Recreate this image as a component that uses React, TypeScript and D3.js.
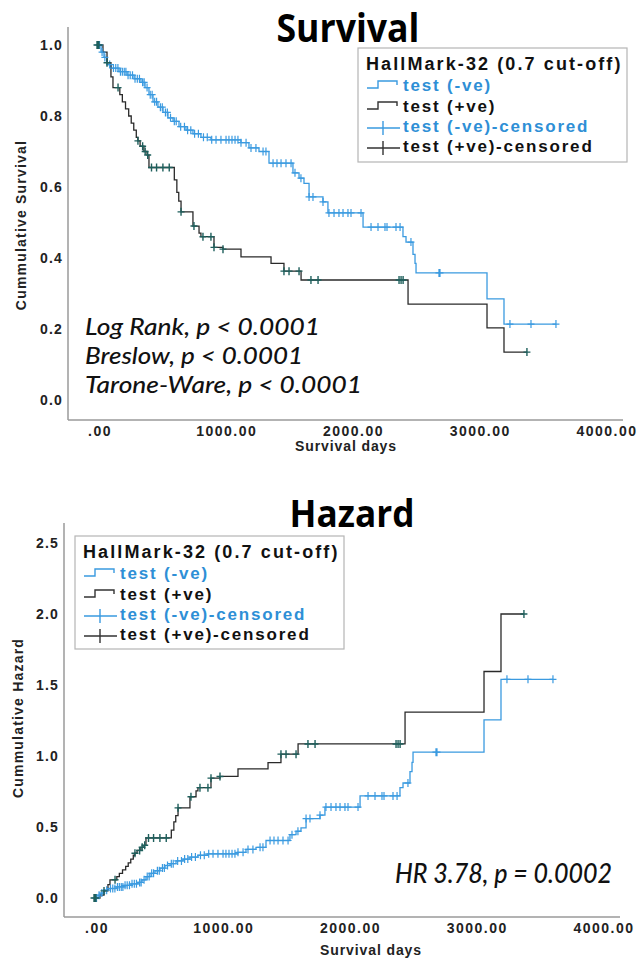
import * as d3 from "d3";

// step times (days) shared by survival and hazard curves
const negTimes = [0, 32, 55, 79, 110, 174, 237, 292, 347, 379, 410, 442, 481, 521, 560, 600, 647, 702, 757, 820, 899, 1136, 1199, 1278, 1357, 1546, 1594, 1633, 1673, 1783, 1822, 2099, 2414, 2438, 2493, 2509, 2517, 3077, 3211];
const negSurv = [1.0, 0.98, 0.965, 0.945, 0.935, 0.925, 0.915, 0.905, 0.895, 0.88, 0.86, 0.84, 0.825, 0.81, 0.795, 0.785, 0.77, 0.76, 0.75, 0.74, 0.733, 0.725, 0.71, 0.7, 0.667, 0.64, 0.625, 0.61, 0.572, 0.558, 0.527, 0.487, 0.46, 0.445, 0.41, 0.385, 0.358, 0.285, 0.214];
const negHaz = [0, 0.02, 0.035, 0.055, 0.067, 0.078, 0.089, 0.1, 0.11, 0.128, 0.151, 0.174, 0.192, 0.211, 0.229, 0.242, 0.261, 0.274, 0.288, 0.301, 0.311, 0.322, 0.342, 0.357, 0.405, 0.446, 0.47, 0.494, 0.559, 0.583, 0.64, 0.719, 0.777, 0.81, 0.89, 0.955, 1.027, 1.255, 1.54];
const negEnd = 3621;
const negCensored = [8, 20, 40, 62, 100, 130, 148, 165, 185, 200, 215, 228, 245, 262, 280, 300, 318, 335, 360, 372, 395, 420, 435, 455, 470, 500, 515, 540, 555, 580, 610, 625, 660, 690, 715, 740, 770, 800, 840, 870, 905, 939, 978, 1018, 1041, 1065, 1089, 1112, 1136, 1176, 1215, 1254, 1310, 1333, 1389, 1420, 1452, 1491, 1531, 1562, 1609, 1673, 1704, 1783, 1830, 1870, 1909, 1941, 1980, 2004, 2083, 2162, 2217, 2272, 2288, 2359, 2391, 2477, 2698, 2706, 3258, 3424, 3621];

const posTimes = [0, 47, 79, 110, 126, 180, 200, 225, 250, 270, 290, 310, 323, 340, 370, 395, 410, 610, 630, 645, 663, 757, 805, 820, 923, 994, 1136, 1373, 1475, 1610, 2454, 3077, 3211];
const posSurv = [1.0, 0.98, 0.95, 0.91, 0.88, 0.86, 0.84, 0.82, 0.8, 0.78, 0.76, 0.74, 0.73, 0.715, 0.7, 0.69, 0.655, 0.62, 0.585, 0.56, 0.53, 0.49, 0.47, 0.46, 0.43, 0.425, 0.403, 0.385, 0.363, 0.338, 0.27, 0.203, 0.135];
const posHaz = [0, 0.02, 0.05, 0.094, 0.128, 0.151, 0.174, 0.198, 0.223, 0.248, 0.274, 0.301, 0.315, 0.335, 0.357, 0.371, 0.423, 0.478, 0.536, 0.58, 0.635, 0.713, 0.755, 0.777, 0.844, 0.856, 0.909, 0.954, 1.013, 1.085, 1.309, 1.595, 2.0];
const posEnd = 3392;
const posCensored = [0, 5, 15, 79, 166, 323, 360, 380, 400, 430, 470, 520, 570, 663, 765, 836, 899, 923, 994, 1475, 1515, 1594, 1688, 1744, 2383, 2399, 2415, 3392];

const dayTicks = [0, 1000, 2000, 3000, 4000];
const dayLabels = [".00", "1000.00", "2000.00", "3000.00", "4000.00"];
const survTicks = [0, 0.2, 0.4, 0.6, 0.8, 1.0];
const hazTicks = [0, 0.5, 1.0, 1.5, 2.0, 2.5];

const legendTitle = "HallMark-32 (0.7 cut-off)";
const legendItems = ["test (-ve)", "test (+ve)", "test (-ve)-censored", "test (+ve)-censored"];
const survNotes = ["Log Rank, p < 0.0001", "Breslow, p < 0.0001", "Tarone-Ware, p < 0.0001"];
const hazNote = "HR 3.78, p = 0.0002";

const BLUE = "#3a9ae0";
const BLUE_TEXT = "#2e8fd6";
const BLACK = "#2a2a2a";
const TEAL = "#1e5f5c";
const AXIS = "#9a9a9a";
const SANS = "'Liberation Sans', Arial, sans-serif";
const TITLE_FONT = "'Open Sans', sans-serif";
const NOTE_FONT = "Lato, 'Open Sans', sans-serif";

const stepAt = (times: number[], vals: number[], t: number) =>
  vals[Math.max(0, d3.bisectRight(times, t) - 1)];

function Legend({ x, y, w, h, textDx }: any) {
  const rows = [y + 43, y + 64, y + 84, y + 104];
  const sx = x + 9;
  return (
    <g>
      <rect x={x} y={y} width={w} height={h} fill="#fff" stroke="#b5b5b5" strokeWidth={1.2} />
      <text x={x + 8} y={y + 22} fontFamily={SANS} fontSize={18} fontWeight={700} letterSpacing={2.1} fill="#111">
        {legendTitle}
      </text>
      {legendItems.map((label, i) => {
        const b = rows[i];
        const col = i % 2 === 0 ? BLUE : "#333";
        return (
          <g key={label}>
            {i < 2 ? (
              <path d={`M${sx},${b - 3}H${sx + 11}V${b - 10}H${sx + 30}V${b - 6}`} fill="none" stroke={col} strokeWidth={1.4} />
            ) : (
              <path d={`M${sx},${b - 4}H${sx + 33}M${sx + 16},${b - 11}V${b + 3}`} fill="none" stroke={col} strokeWidth={1.4} />
            )}
            <text x={x + textDx} y={b} fontFamily={SANS} fontSize={17} fontWeight={700} letterSpacing={1.8}
              fill={i % 2 === 0 ? BLUE_TEXT : "#111"}>
              {label}
            </text>
          </g>
        );
      })}
    </g>
  );
}

function Panel({ cfg, negVals, posVals, ticks, yMax, yFmt }: any) {
  const x = d3.scaleLinear().domain([0, 4000]).range([cfg.x0, cfg.x4000]);
  const y = d3.scaleLinear().domain([0, yMax]).range([cfg.yZero, cfg.yMaxPx]);
  const line = d3.line<[number, number]>()
    .x((d) => x(d[0]))
    .y((d) => y(d[1]))
    .curve(d3.curveStepAfter);

  const pts = (times: number[], vals: number[], end: number): [number, number][] =>
    [...times.map((t, i) => [t, vals[i]] as [number, number]), [end, vals[vals.length - 1]]];

  const censorPath = (cens: number[], times: number[], vals: number[]) =>
    cens.map((t) => {
      const cx = x(t);
      const cy = y(stepAt(times, vals, t));
      return `M${cx - 3.5},${cy}H${cx + 3.5}M${cx},${cy - 4}V${cy + 4}`;
    }).join("");

  return (
    <g>
      {/* axes */}
      <line x1={cfg.axisX} x2={cfg.axisX} y1={cfg.axisTop} y2={cfg.axisY} stroke={AXIS} strokeWidth={1.5} />
      <line x1={cfg.axisX} x2={cfg.axisRight} y1={cfg.axisY} y2={cfg.axisY} stroke={AXIS} strokeWidth={1.5} />
      {ticks.map((t: number) => (
        <text key={t} x={cfg.yTickRight} y={y(t) + 5} textAnchor="end" fontFamily={SANS} fontSize={14}
          fontWeight={700} letterSpacing={1.2} fill="#222">
          {yFmt(t)}
        </text>
      ))}
      {dayTicks.map((t, i) => (
        <text key={t} x={x(t) + 3} y={cfg.xTickY} textAnchor="middle" fontFamily={SANS} fontSize={14}
          fontWeight={700} letterSpacing={1.5} fill="#222">
          {dayLabels[i]}
        </text>
      ))}
      <text x={cfg.xLabelX} y={cfg.xLabelY} textAnchor="middle" fontFamily={SANS} fontSize={14}
        fontWeight={700} letterSpacing={0.9} fill="#222">
        Survival days
      </text>
      <text transform={`translate(${cfg.yLabelX},${cfg.yLabelY}) rotate(-90)`} textAnchor="middle"
        fontFamily={SANS} fontSize={14} fontWeight={700} letterSpacing={1.2} fill="#222">
        {cfg.yLabel}
      </text>

      {/* curves */}
      <path d={line(pts(negTimes, negVals, negEnd)) ?? ""} fill="none" stroke={BLUE} strokeWidth={1.3} />
      <path d={line(pts(posTimes, posVals, posEnd)) ?? ""} fill="none" stroke={BLACK} strokeWidth={1.3} />
      <path d={censorPath(negCensored, negTimes, negVals)} fill="none" stroke={BLUE} strokeWidth={1.2} />
      <path d={censorPath(posCensored, posTimes, posVals)} fill="none" stroke={TEAL} strokeWidth={1.4} />

      {/* title */}
      <text x={cfg.titleX} y={cfg.titleY} textAnchor="middle" fontFamily={TITLE_FONT} fontSize={cfg.titleSize}
        fontWeight={700} textLength={cfg.titleLen} lengthAdjust="spacingAndGlyphs" fill="#000">
        {cfg.title}
      </text>
    </g>
  );
}

const survCfg = {
  x0: 97, x4000: 604, yZero: 400, yMaxPx: 45,
  axisX: 68, axisTop: 27, axisY: 420, axisRight: 623,
  yTickRight: 63, xTickY: 436, xLabelX: 346, xLabelY: 451,
  yLabel: "Cummulative Survival", yLabelX: 26, yLabelY: 225,
  title: "Survival", titleX: 348, titleY: 42, titleSize: 40, titleLen: 143,
};

const hazCfg = {
  x0: 94, x4000: 601, yZero: 898, yMaxPx: 543,
  axisX: 64, axisTop: 523, axisY: 917, axisRight: 620,
  yTickRight: 59, xTickY: 933, xLabelX: 371, xLabelY: 955,
  yLabel: "Cummulative Hazard", yLabelX: 23, yLabelY: 718,
  title: "Hazard", titleX: 352, titleY: 527, titleSize: 38, titleLen: 125,
};

export default function App() {
  return (
    <svg width={637} height={960} viewBox="0 0 637 960"
      style={{ position: "absolute", left: 0, top: 0, background: "#fff" }}>
      <rect width={637} height={960} fill="#fff" />
      <Panel cfg={survCfg} negVals={negSurv} posVals={posSurv} ticks={survTicks} yMax={1}
        yFmt={(v: number) => v.toFixed(1)} />
      <Legend x={358} y={48} w={269} h={114} textDx={45} />
      {survNotes.map((s, i) => (
        <text key={s} x={85} y={[335, 364, 393][i]} fontFamily={NOTE_FONT} fontStyle="italic" fontWeight={500}
          fontSize={23} textLength={[235, 218, 277][i]} lengthAdjust="spacingAndGlyphs" fill="#111">
          {s}
        </text>
      ))}

      <Panel cfg={hazCfg} negVals={negHaz} posVals={posHaz} ticks={hazTicks} yMax={2.5}
        yFmt={(v: number) => v.toFixed(1)} />
      <Legend x={75} y={536} w={269} h={113} textDx={45} />
      <text x={395} y={883} fontFamily={NOTE_FONT} fontStyle="italic" fontWeight={500} fontSize={26}
        textLength={217} lengthAdjust="spacingAndGlyphs" fill="#111">
        {hazNote}
      </text>
    </svg>
  );
}
